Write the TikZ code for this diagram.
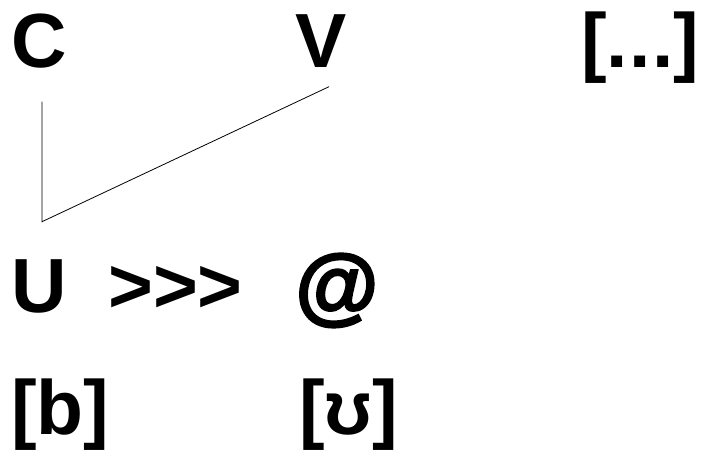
\documentclass[tikz,border=0pt]{standalone}
\usepackage{fontspec}
\setmainfont{Liberation Sans}[Ligatures=TeXOff]
\newfontfamily\atfont{Liberation Sans Bold}[FakeBold=2.5]
\usepackage{tikz}

\begin{document}
\begin{tikzpicture}[x=0.75pt,y=0.75pt,yscale=-1,xscale=1]
\tikzset{seg/.style={anchor=base west,inner sep=0pt,font=\fontsize{57.6}{60}\selectfont\bfseries}}
\useasboundingbox (0,0) rectangle (705,449);

% Text Node
\node [seg] (cons) at (11,68) {C};
% Text Node
\node [seg] (vow) at (295,68) {V};
% Text Node
\node [seg] (gap) at (581,68) {[.\kern1pt.\kern1pt.]};
% Text Node
\node [seg] (und) at (11,312) {U};
% Text Node
\node [seg] (arr) at (108,312) {>>>};
% Text Node
\node [seg,font=\fontsize{64}{66}\selectfont\atfont] (at) at (295,314) {@};
% Text Node
\node [seg] (lab) at (11,434) {[b]};
% Text Node
\node [seg] (upsi) at (299,434) {[ʊ]};

%Straight Lines
\coordinate (ctop) at (42,101.7);
\coordinate (corner) at (42,221.7);
\coordinate (vtop) at (329,86.7);
\draw [line width=0.6]  (ctop) -- (corner) -- (vtop) ;

\end{tikzpicture}
\end{document}
